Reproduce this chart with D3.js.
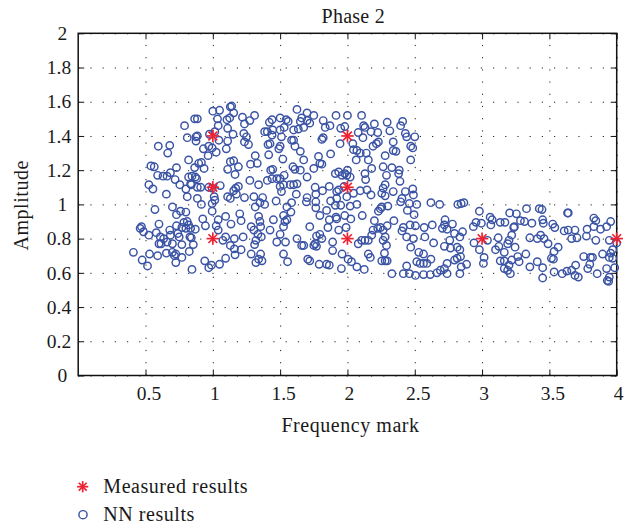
<!DOCTYPE html>
<html>
<head>
<meta charset="utf-8">
<script src="https://cdn.jsdelivr.net/npm/d3@7"></script>
<style>
  body { margin: 0; background: #fff; }
  text { font-family: "Liberation Serif", serif; fill: #1a1a1a; }
</style>
</head>
<body>
<div id="chart"></div>
<script>
// Values.
const xTicks = [0.5, 1, 1.5, 2, 2.5, 3, 3.5, 4];
const yTicks = [0, 0.2, 0.4, 0.6, 0.8, 1, 1.2, 1.4, 1.6, 1.8, 2];

const measuredFreq = [1, 1, 1, 2, 2, 2, 3, 4];
const measuredAmp = [0.8, 1.1, 1.4, 0.8, 1.1, 1.4, 0.8, 0.8];

// NN results as [frequency mark, amplitude]
const nnResults = [
  [.41,.72],[.475,.675],[.515,.64],[.53,.71],[.59,.70],[.46,.86],[.47,.87],[.485,.84],[.525,.82],[.58,.835],
  [.60,.885],[.61,.81],[.635,.80],[.60,.77],[.615,.77],[.655,.715],[.68,.85],[.685,.82],[.66,.78],[.70,.77],
  [.73,.875],[.74,.83],[.75,.81],[.725,.66],[.715,.70],[.725,.71],[.77,.69],[.825,.725],[.785,.895],[.81,.90],
  [.82,.88],[.80,.86],[.77,.865],[.835,.86],[.87,.855],[.855,.765],[.84,.805],[.83,.81],[.77,.765],[.70,.72],
  [.73,.94],[.76,.96],[.80,.955],[.70,.985],[.57,.97],[.655,1.06],[.555,1.09],[.525,1.115],[.59,1.17],[.54,1.225],
  [.565,1.22],[.63,1.165],[.66,1.165],[.685,1.185],[.73,1.215],[.72,1.145],[.755,1.115],[.80,1.09],[.84,1.115],[.81,1.045],
  [.885,1.035],[.915,1.00],[.995,.96],[.925,.915],[.945,.875],[1.025,.875],[1.04,.91],[1.095,.93],[1.135,.885],[1.21,.905],
  [1.20,.945],[1.04,.85],[1.075,.79],[1.095,.81],[1.16,.80],[1.13,.76],[1.16,.74],[1.21,.735],[1.165,.705],[1.095,.685],
  [1.05,.65],[.99,.645],[.97,.63],[.94,.67],[.845,.62],[1.285,.71],[1.355,.71],[1.32,.66],[1.34,.68],[1.365,.67],
  [1.225,.81],[1.285,.87],[1.305,.85],[1.34,.93],[1.315,.985],[1.385,1.00],[1.35,.90],[1.425,.85],[1.355,.87],[1.335,.825],
  [1.36,.81],[1.32,.79],[1.31,.765],[1.305,1.045],[1.37,1.04],[1.35,1.01],[1.235,1.04],[1.175,1.06],[1.155,1.08],[1.19,1.105],
  [1.17,1.095],[1.11,1.045],[1.13,1.035],[1.01,1.045],[1.015,1.025],[.995,1.005],
  [.82,1.26],[.595,1.34],[.68,1.345],[.665,1.30],[.79,1.46],[.865,1.50],[.885,1.50],[1.0,1.545],[1.05,1.55],[1.13,1.57],
  [1.14,1.575],[1.155,1.535],[1.125,1.505],[1.105,1.495],[1.035,1.50],[1.04,1.46],[1.11,1.445],[1.22,1.51],[1.31,1.52],[1.275,1.49],
  [1.235,1.47],[1.15,1.41],[1.11,1.37],[1.10,1.325],[1.045,1.375],[1.015,1.425],[.975,1.41],[.81,1.39],[.875,1.395],[.885,1.40],
  [.875,1.37],[.97,1.34],[.995,1.33],[1.025,1.305],[.93,1.325],[.965,1.285],[.915,1.245],[.895,1.24],[.935,1.21],[.865,1.215],
  [.82,1.16],[.845,1.165],[.87,1.16],[.88,1.15],[.835,1.12],[.91,1.10],[.885,1.10],[.97,1.10],[.995,1.095],[1.055,1.11],
  [1.11,1.205],[1.19,1.22],[1.13,1.25],[1.155,1.255],[1.165,1.175],[1.28,1.235],[1.315,1.285],[1.33,1.24],[1.275,1.14],[1.34,1.115],
  [1.405,1.425],[1.385,1.425],[1.23,1.415],[1.25,1.395],[1.235,1.365],[1.265,1.35],[1.41,1.35],[1.415,1.29],[1.405,1.14],[1.43,1.20],
  [1.42,1.48],
  [1.625,1.555],[1.50,1.505],[1.44,1.495],[1.545,1.495],[1.56,1.485],[1.70,1.535],[1.66,1.505],[1.65,1.485],[1.75,1.52],[1.70,1.49],
  [1.72,1.475],[1.675,1.45],[1.635,1.44],[1.60,1.435],[1.53,1.45],[1.50,1.435],[1.445,1.435],[1.51,1.395],[1.585,1.375],[1.60,1.375],
  [1.50,1.34],[1.49,1.325],[1.61,1.34],[1.65,1.31],[1.675,1.26],[1.52,1.265],[1.44,1.405],[1.425,1.355],[1.445,1.205],[1.595,1.22],
  [1.61,1.205],[1.65,1.20],[1.75,1.21],[1.795,1.24],[1.785,1.28],[1.81,1.235],[1.875,1.295],[1.82,1.49],[1.835,1.45],[1.87,1.46],
  [1.915,1.52],[2.0,1.52],[2.105,1.52],[2.20,1.47],[2.295,1.48],[2.41,1.485],[2.395,1.46],[2.315,1.43],[2.12,1.46],[2.13,1.45],
  [2.225,1.42],[2.175,1.425],[2.115,1.39],[2.08,1.42],[1.95,1.445],[1.98,1.455],[1.82,1.39],[1.81,1.38],[1.945,1.355],[2.04,1.355],
  [2.045,1.32],[2.07,1.315],[2.095,1.30],[2.065,1.26],[2.14,1.30],[2.215,1.355],[2.23,1.365],[2.19,1.34],[2.155,1.26],[2.18,1.21],
  [2.34,1.365],[2.34,1.315],[2.28,1.285],[2.36,1.31],[2.43,1.415],[2.44,1.395],[2.50,1.395],[2.47,1.34],[2.485,1.33],[2.47,1.26],
  [2.265,1.22],[2.33,1.215],[2.385,1.20],[2.38,1.18],[2.29,1.17],[2.13,1.18],[2.135,1.145],[2.28,1.115],[2.265,1.095],[2.34,1.075],
  [2.39,1.135],[2.485,1.09],[2.49,1.055],[2.43,1.075],[2.405,1.035],[2.395,1.015],[2.28,1.05],[2.255,1.065],[2.46,1.005],[2.445,.965],
  [2.515,1.00],[2.495,.94],[2.62,1.01],[2.685,1.00],
  [1.91,1.18],[1.935,1.19],[1.96,1.17],[2.0,1.20],[1.995,1.17],[1.98,1.18],[2.02,1.16],[1.76,1.10],[1.815,1.08],[1.865,1.105],
  [1.92,1.075],[1.935,1.085],[1.975,1.105],[2.045,1.065],[2.095,1.08],[2.145,1.085],[2.175,1.055],[1.47,1.02],[1.70,1.04],[1.695,1.015],
  [1.765,1.06],[1.765,1.015],[1.765,.98],[1.845,.965],[1.795,.935],[1.875,1.02],[1.92,1.035],[1.91,.995],[1.95,.995],[2.02,.99],
  [2.07,1.0],[1.995,1.045],[2.11,.935],[1.915,.925],[1.92,.915],[1.865,.91],[1.98,.935],[2.025,.915],[1.935,.85],[1.72,.87],
  [1.855,.865],[1.99,.865],[2.2,.905],[2.245,.975],[2.255,.985],[2.30,.99],[2.23,.96],[2.345,.905],[2.295,.875],[2.225,.86],
  [2.245,.865],[2.265,.85],[2.415,.865],[2.405,.845],[2.465,.88],[2.505,.875],[2.57,.865],[2.63,.88],[1.45,.91],[1.525,.935],
  [1.55,.91],[1.535,.90],[1.525,.87],[1.55,.985],[1.585,1.01],[1.58,.955],[1.525,1.115],[1.50,1.105],[1.51,1.075],[1.50,1.15],
  [1.53,1.17],[1.44,1.15],[1.475,1.15],[1.575,1.115],[1.60,1.115],[1.62,1.06],[1.625,1.12],[1.70,1.16],
  [2.19,.85],[2.28,.81],[2.265,.79],[2.18,.82],[2.155,.79],[2.13,.79],[2.105,.79],[2.08,.77],[2.29,.76],[2.275,.715],
  [2.255,.67],[2.28,.67],[2.295,.67],[2.155,.71],[2.17,.69],[1.955,.625],[2.005,.68],[2.03,.665],[2.07,.635],[2.125,.62],
  [1.96,.71],[1.89,.73],[1.89,.78],[1.795,.825],[1.81,.80],[1.77,.815],[1.75,.76],[1.77,.755],[1.76,.77],[1.66,.76],
  [1.675,.76],[1.625,.80],[1.54,.78],[1.475,.78],[1.50,.825],[1.525,.71],[1.555,.665],[1.705,.68],[1.72,.67],[1.79,.65],
  [1.845,.65],[1.865,.645],[2.33,.595],[2.415,.595],[2.46,.595],[2.505,.585],[2.565,.59],[2.615,.59],[2.665,.60],[2.44,.64],
  [2.515,.665],[2.54,.655],[2.565,.655],[2.59,.655],[2.62,.68],[2.565,.71],[2.53,.72],[2.47,.75],[2.64,.775],[2.575,.81],
  [2.49,.80],[2.44,.81],
  [2.82,1.0],[2.845,1.005],[2.865,1.01],[2.98,.96],[3.06,.925],[3.075,.91],[3.205,.95],[3.255,.945],[3.33,.975],[3.425,.975],
  [3.445,.97],[3.635,.95],[3.64,.95],[3.83,.92],[3.845,.905],[3.955,.90],[2.725,.91],[2.78,.885],[2.72,.88],[2.705,.86],
  [2.74,.855],[2.795,.83],[2.855,.84],[2.935,.87],[2.955,.895],[2.995,.89],[3.065,.88],[3.135,.895],[3.17,.895],[3.24,.87],
  [3.235,.865],[3.285,.905],[3.315,.90],[3.37,.89],[3.45,.91],[3.455,.89],[3.525,.885],[3.54,.865],[3.61,.845],[3.64,.85],
  [3.69,.85],[3.78,.855],[3.83,.87],[3.88,.855],[3.925,.87],[3.775,.815],[3.845,.79],[3.945,.79],[3.665,.80],[3.705,.805],
  [3.435,.82],[3.41,.80],[3.46,.80],[3.355,.805],[3.22,.82],[3.20,.79],[3.19,.77],[3.12,.805],[3.04,.79],[2.94,.775],
  [2.76,.79],[2.835,.81],[2.72,.755],[2.765,.745],[2.815,.75],[2.835,.735],[2.98,.735],[3.125,.755],[3.10,.735],[3.165,.72],
  [3.245,.75],[3.49,.77],[3.565,.75],[3.535,.725],[3.325,.71],[3.265,.695],[3.275,.665],[3.015,.69],[3.01,.655],[3.135,.67],
  [3.165,.67],[3.22,.675],[3.20,.645],[3.165,.625],[3.19,.615],[3.21,.595],[2.74,.655],[2.72,.625],[2.69,.615],[2.74,.595],
  [2.835,.595],[2.845,.635],[2.815,.685],[2.84,.695],[2.885,.65],[2.795,.675],[3.355,.635],[3.41,.665],[3.45,.63],[3.45,.57],
  [3.515,.685],[3.53,.68],[3.535,.605],[3.595,.595],[3.63,.61],[3.665,.615],[3.695,.645],[3.69,.585],[3.715,.575],[3.755,.695],
  [3.805,.69],[3.82,.69],[3.80,.65],[3.785,.625],[3.855,.595],[3.895,.71],[3.925,.625],[3.945,.69],[3.97,.735],[3.955,.715],
  [3.97,.685],[3.985,.63],[3.945,.575],[3.93,.555],[3.94,.55],[4.0,.775]
];

const width = 639, height = 527;
const margin = { top: 33.3, right: 22.3, bottom: 151.5, left: 78.2 };
const plotW = width - margin.left - margin.right;
const plotH = height - margin.top - margin.bottom;
const plotBottom = margin.top + plotH, plotRight = margin.left + plotW;

const svg = d3.select('#chart').append('svg')
  .attr('width', width)
  .attr('height', height);

const x = d3.scaleLinear().domain([0, 4]).range([margin.left, plotRight]);
const y = d3.scaleLinear().domain([0, 2]).range([plotBottom, margin.top]);

// Dotted grid, drawn as very long ticks.
const gridX = svg.append('g')
  .attr('transform', `translate(0,${plotBottom})`)
  .call(d3.axisBottom(x).tickValues(xTicks).tickSize(-plotH).tickFormat(''));
const gridY = svg.append('g')
  .attr('transform', `translate(${margin.left},0)`)
  .call(d3.axisLeft(y).tickValues(yTicks).tickSize(-plotW).tickFormat(''));
[gridX, gridY].forEach(g => {
  g.select('.domain').remove();
  g.selectAll('line').attr('stroke', '#222').attr('stroke-width', 1).attr('stroke-dasharray', '1.2 11');
});

// Short solid ticks on all four sides, labels on bottom and left
const xAxis = svg.append('g')
  .attr('transform', `translate(0,${plotBottom})`)
  .call(d3.axisBottom(x).tickValues(xTicks).tickSize(-6).tickFormat(d3.format('')));
const yAxis = svg.append('g')
  .attr('transform', `translate(${margin.left},0)`)
  .call(d3.axisLeft(y).tickValues(yTicks).tickSize(-6).tickPadding(7).tickFormat(d3.format('')));
const xTop = svg.append('g')
  .attr('transform', `translate(0,${margin.top})`)
  .call(d3.axisTop(x).tickValues(xTicks).tickSize(-6).tickFormat(''));
const yRight = svg.append('g')
  .attr('transform', `translate(${plotRight},0)`)
  .call(d3.axisRight(y).tickValues(yTicks).tickSize(-6).tickFormat(''));
[xAxis, yAxis, xTop, yRight].forEach(g => {
  g.select('.domain').remove();
  g.selectAll('line').attr('stroke', '#111').attr('stroke-width', 1);
  g.selectAll('text').style('font-size', '19.5px').style('font-family', '"Liberation Serif", serif').attr('fill', '#1a1a1a');
});
xAxis.selectAll('text').attr('y', 10.6).attr('dx', d => Number.isInteger(d) ? 1.5 : 3);
yAxis.selectAll('text').attr('dx', d => Number.isInteger(d) ? -4 : 0);

// Box around the plot
svg.append('rect')
  .attr('x', margin.left).attr('y', margin.top)
  .attr('width', plotW).attr('height', plotH)
  .attr('fill', 'none').attr('stroke', '#111').attr('stroke-width', 1.5);

// Markers
svg.append('g').selectAll('circle')
  .data(nnResults)
  .enter()
  .append('circle')
  .attr('cx', d => x(d[0]))
  .attr('cy', d => y(d[1]))
  .attr('r', 3.7)
  .attr('fill', 'none')
  .attr('stroke', '#3a53a4')
  .attr('stroke-width', 1.45);

function star(g, size) {
  [0, 45, 90, 135].forEach(a => {
    g.append('line')
      .attr('x1', -size).attr('x2', size)
      .attr('transform', `rotate(${a})`)
      .attr('stroke', '#ee2233')
      .attr('stroke-width', 1.7);
  });
}

svg.append('g').selectAll('g')
  .data(measuredFreq)
  .enter()
  .append('g')
  .attr('transform', (d, i) => `translate(${x(d)},${y(measuredAmp[i])})`)
  .each(function() { star(d3.select(this), 6.2); });

// Titles
svg.append('text').attr('x', 353.3).attr('y', 23.3).attr('text-anchor', 'middle')
  .style('font-size', '20px').style('letter-spacing', '0.25px').text('Phase 2');
svg.append('text').attr('x', 350.5).attr('y', 431.5).attr('text-anchor', 'middle')
  .style('font-size', '20px').style('letter-spacing', '0.55px').text('Frequency mark');
svg.append('text').attr('transform', 'translate(28.3,205.3) rotate(-90)').attr('text-anchor', 'middle')
  .style('font-size', '20px').style('letter-spacing', '0.55px').text('Amplitude');

// Legend
const legend = svg.append('g');
star(legend.append('g').attr('transform', 'translate(82.7,486.7)'), 5.6);
legend.append('circle').attr('cx', 83).attr('cy', 514.7).attr('r', 4.1)
  .attr('fill', 'none').attr('stroke', '#3a53a4').attr('stroke-width', 1.45);
legend.append('text').attr('x', 103.3).attr('y', 493.3)
  .style('font-size', '20px').style('letter-spacing', '0.55px').text('Measured results');
legend.append('text').attr('x', 103.3).attr('y', 521)
  .style('font-size', '20px').style('letter-spacing', '0.55px').text('NN results');
</script>
</body>
</html>
